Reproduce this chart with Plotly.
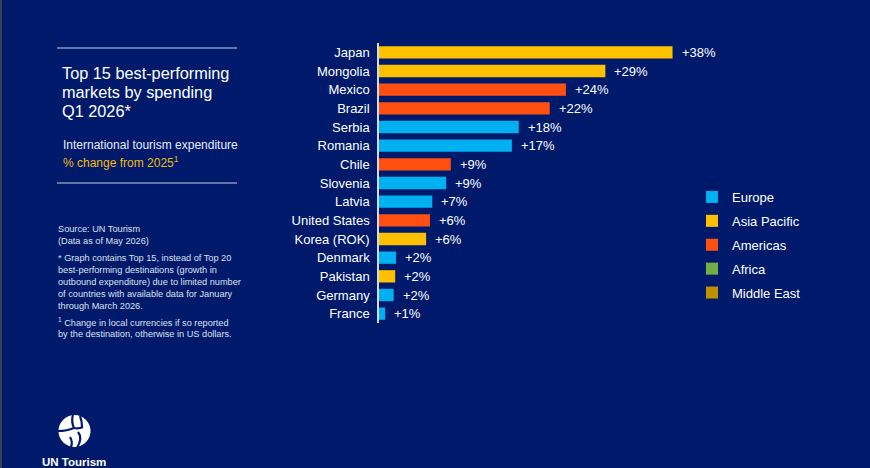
import plotly.graph_objects as go

# ---------------- data ----------------
countries = ["Japan", "Mongolia", "Mexico", "Brazil", "Serbia", "Romania", "Chile",
             "Slovenia", "Latvia", "United States", "Korea (ROK)", "Denmark",
             "Pakistan", "Germany", "France"]
values = [38.0, 29.3, 24.2, 22.1, 18.1, 17.2, 9.3, 8.7, 6.9, 6.6, 6.1, 2.2, 2.1, 1.9, 0.8]
value_labels = ["+38%", "+29%", "+24%", "+22%", "+18%", "+17%", "+9%", "+9%", "+7%",
                "+6%", "+6%", "+2%", "+2%", "+2%", "+1%"]
regions = ["Asia Pacific", "Asia Pacific", "Americas", "Americas", "Europe", "Europe",
           "Americas", "Europe", "Europe", "Americas", "Asia Pacific", "Europe",
           "Asia Pacific", "Europe", "Europe"]
region_order = ["Europe", "Asia Pacific", "Americas", "Africa", "Middle East"]
region_colors = {"Europe": "#00B0F0", "Asia Pacific": "#FFC000", "Americas": "#FF5012",
                 "Africa": "#70AD47", "Middle East": "#BF9000"}

BG = "#001A6B"
W, H = 870, 468
L, R, T, B = 379, 182, 43, 145
PW, PH = W - L - R, H - T - B


def px(x):
    return (x - L) / PW


def py(y):
    return (H - B - y) / PH


fig = go.Figure()
for reg in region_order:
    xs = [v for v, r in zip(values, regions) if r == reg]
    ys = [c for c, r in zip(countries, regions) if r == reg]
    if not xs:
        xs, ys = [None], [None]
    fig.add_trace(go.Bar(
        x=xs, y=ys, orientation="h", name=reg, width=0.66,
        marker=dict(color=region_colors[reg], line=dict(width=0)),
        legendgroup=reg, hoverinfo="skip",
    ))

annotations = []
for c, v, lab in zip(countries, values, value_labels):
    annotations.append(dict(x=v, y=c, xref="x", yref="y", text=lab, showarrow=False,
                            xanchor="left", yanchor="middle", xshift=7,
                            font=dict(size=13, color="#FFFFFF")))

FONT = "Liberation Sans, Arial, sans-serif"


def text(x, y, s, size, color="#FFFFFF", bold=False, anchor="left"):
    if bold:
        s = "<b>" + s + "</b>"
    annotations.append(dict(x=px(x), y=py(y), xref="paper", yref="paper", text=s,
                            showarrow=False, xanchor=anchor, yanchor="middle",
                            font=dict(size=size, color=color, family=FONT)))


# left panel titles
text(60, 73, "Top 15 best-performing", 16.3)
text(60, 92, "markets by spending", 16.3)
text(60, 111, "Q1 2026*", 16.3)
text(61, 145, "International tourism expenditure", 12, "#E8ECF6")
text(61, 162, "% change from 2025<sup>1</sup>", 12, "#F2B90F")

small = "#DCE1F0"
lines_small = [
    (229, "Source: UN Tourism"),
    (241, "(Data as of May 2026)"),
    (258, "* Graph contains Top 15, instead of Top 20"),
    (270, "best-performing destinations (growth in"),
    (282, "outbound expenditure) due to limited number"),
    (294, "of countries with available data for January"),
    (306, "through March 2026."),
    (322, "<sup>1</sup> Change in local currencies if so reported"),
    (334, "by the destination, otherwise in US dollars."),
]
for yy, s in lines_small:
    text(56, yy, s, 9.2, small)

text(40, 462, "UN Tourism", 11.5, "#FFFFFF", bold=True)


def logo_path(pts):
    # pts: list of (x, y) pixel points; first is M, then Q pairs
    s = f"M {px(pts[0][0])} {py(pts[0][1])}"
    for i in range(1, len(pts), 2):
        (cx, cy), (ex, ey) = pts[i], pts[i + 1]
        s += f" Q {px(cx)} {py(cy)} {px(ex)} {py(ey)}"
    return dict(type="path", xref="paper", yref="paper", path=s,
                line=dict(color=BG, width=2.2))


shapes = [
    dict(type="line", xref="paper", yref="paper", x0=px(57), x1=px(237), y0=py(48), y1=py(48),
         line=dict(color="#C9D0E6", width=1)),
    dict(type="line", xref="paper", yref="paper", x0=px(57), x1=px(237), y0=py(183), y1=py(183),
         line=dict(color="#C9D0E6", width=1)),
    # logo globe
    dict(type="circle", xref="paper", yref="paper", x0=px(58.5), x1=px(90.5), y0=py(415), y1=py(447),
         fillcolor="#FFFFFF", line=dict(width=0)),
    logo_path([(73, 414), (71, 422), (74, 428), (79, 429), (83, 427)]),
    logo_path([(80, 416), (82, 421), (82, 427)]),
    logo_path([(74, 428), (67, 431), (58, 431)]),
    logo_path([(78, 432), (83, 438), (77, 448)]),
    logo_path([(70, 437), (73, 442), (71, 447)]),
    # left border strip
    dict(type="rect", xref="paper", yref="paper", x0=px(0), x1=px(2), y0=py(0), y1=py(H),
         fillcolor="#3A3F55", line=dict(width=0)),
]

fig.update_layout(
    width=W, height=H,
    margin=dict(l=L, r=R, t=T, b=B, pad=0),
    paper_bgcolor=BG, plot_bgcolor=BG,
    font=dict(family=FONT, color="#FFFFFF", size=13),
    barmode="overlay",
    showlegend=True,
    legend=dict(x=px(692), y=py(182), xanchor="left", yanchor="top",
                bgcolor="rgba(0,0,0,0)", font=dict(size=13, color="#FFFFFF", family=FONT),
                tracegroupgap=4, traceorder="grouped", itemclick=False, itemdoubleclick=False),
    xaxis=dict(range=[0, 40], visible=False, fixedrange=True),
    yaxis=dict(type="category", categoryorder="array", categoryarray=countries,
               range=[14.5, -0.5], showline=True, linecolor="#D6DAE6", linewidth=1.5,
               showgrid=False, zeroline=False, ticks="", ticklabelstandoff=5,
               tickfont=dict(size=13, color="#FFFFFF", family=FONT), fixedrange=True),
    annotations=annotations,
    shapes=shapes,
)

fig.write_html(
    "out.html",
    config={"displayModeBar": False},
    post_script="document.body.style.margin='0';document.body.style.background='" + BG + "';",
)
